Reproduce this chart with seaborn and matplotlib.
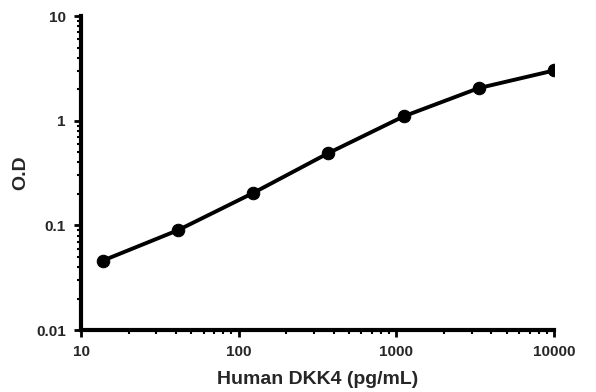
import matplotlib
matplotlib.use("Agg")
import matplotlib.pyplot as plt
import seaborn as sns
import pandas as pd
from matplotlib.ticker import LogLocator, FixedLocator, FixedFormatter, NullFormatter

concentration = [13.7, 41.2, 123.5, 370, 1111, 3333, 10000]
od = [0.046, 0.090, 0.204, 0.49, 1.10, 2.05, 3.02]
x_ticks = [10, 100, 1000, 10000]
x_labels = ["10", "100", "1000", "10000"]
y_ticks = [0.01, 0.1, 1, 10]
y_labels = ["0.01", "0.1", "1", "10"]

sns.set_style("white")
plt.rcParams['font.family'] = ['Liberation Sans', 'DejaVu Sans']

df = pd.DataFrame({"conc": concentration, "od": od})
fig = plt.figure(figsize=(5.96, 3.92), dpi=100)
ax = fig.add_axes([0.136, 0.158, 0.7935, 0.801])
sns.lineplot(data=df, x="conc", y="od", ax=ax, color="black", linewidth=2.8,
             marker="o", markersize=9, markeredgecolor="black")
ax.set_xscale("log")
ax.set_yscale("log")
ax.set_xlim(10, 10000)
ax.set_ylim(0.01, 10)
ax.xaxis.set_major_locator(FixedLocator(x_ticks))
ax.xaxis.set_major_formatter(FixedFormatter(x_labels))
ax.yaxis.set_major_locator(FixedLocator(y_ticks))
ax.yaxis.set_major_formatter(FixedFormatter(y_labels))
ax.xaxis.set_minor_locator(LogLocator(base=10, subs=range(2, 10)))
ax.yaxis.set_minor_locator(LogLocator(base=10, subs=range(2, 10)))
ax.xaxis.set_minor_formatter(NullFormatter())
ax.yaxis.set_minor_formatter(NullFormatter())
for s in ["top", "right"]:
    ax.spines[s].set_visible(False)
for s in ["left", "bottom"]:
    ax.spines[s].set_linewidth(3)
    ax.spines[s].set_color("black")
ax.tick_params(which="major", direction="out", length=5, width=2, color="black",
               labelsize=11, left=True, bottom=True, pad=6)
ax.tick_params(which="minor", direction="out", length=3, width=1.5, color="black",
               left=True, bottom=True)
for lab in ax.get_xticklabels() + ax.get_yticklabels():
    lab.set_fontweight("bold")
ax.set_xlabel("Human DKK4 (pg/mL)", fontsize=14, fontweight="bold")
ax.set_ylabel("O.D", fontsize=14, fontweight="bold")
ax.yaxis.set_label_coords(-0.11, 0.5)
ax.xaxis.set_label_coords(0.5, -0.13)
ax.grid(False)
fig.savefig("out.png", dpi=100)
